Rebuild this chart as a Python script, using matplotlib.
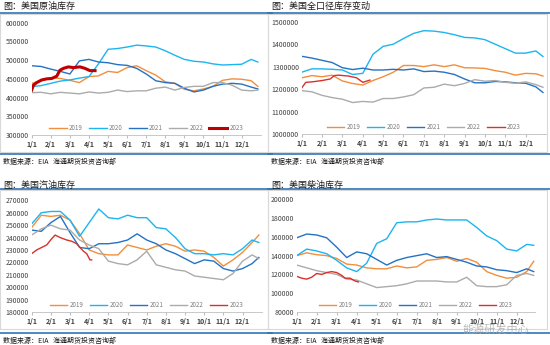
import matplotlib.pyplot as plt
from matplotlib.lines import Line2D
from matplotlib.patches import Rectangle
from matplotlib.ticker import FuncFormatter

plt.rcParams['font.family'] = ['Noto Sans CJK SC', 'DejaVu Sans']

# month position (0 = 1/1) of each reading, semi-monthly
months = [0, 0.5, 1, 1.5, 2, 2.5, 3, 3.5, 4, 4.5, 5, 5.5, 6, 6.5, 7, 7.5,
          8, 8.5, 9, 9.5, 10, 10.5, 11, 11.5, 11.85]
month_labels = ['1/1', '2/1', '3/1', '4/1', '5/1', '6/1', '7/1', '8/1',
                '9/1', '10/1', '11/1', '12/1']
years = ['2019', '2020', '2021', '2022', '2023']

# crude oil stocks (thousand barrels)
crude_2019 = [438, 445, 453, 451, 446, 440, 456, 458, 470, 467, 480, 485, 472,
              460, 442, 438, 422, 418, 423, 430, 446, 450, 449, 445, 430]
crude_2020 = [429, 432, 438, 444, 447, 452, 456, 490, 529, 531, 535, 540, 538,
              535, 525, 513, 502, 497, 495, 490, 487, 488, 489, 502, 495]
crude_2021 = [485, 483, 476, 470, 463, 498, 502, 495, 493, 488, 486, 478, 463,
              445, 440, 438, 425, 415, 420, 430, 436, 438, 436, 428, 423]
crude_2022 = [413, 414, 410, 414, 412, 410, 415, 412, 414, 420, 416, 418, 418,
              425, 428, 420, 427, 430, 430, 440, 440, 433, 420, 418, 420]
crude_2023_x = [0, 0.09, 0.26, 0.52, 0.79, 1.05, 1.31, 1.48, 1.66, 1.92, 2.18,
                2.53, 2.79, 3.05, 3.32]
crude_2023 = [420, 433, 440, 447, 450, 451, 457, 473, 478, 482, 480, 482, 478,
              472, 472]

# total stocks incl. SPR
total_2019 = [1250, 1260, 1255, 1262, 1236, 1225, 1218, 1238, 1255, 1275, 1305,
              1305, 1300, 1308, 1300, 1308, 1295, 1294, 1292, 1282, 1275, 1262,
              1270, 1268, 1258]
total_2020 = [1275, 1290, 1290, 1288, 1285, 1265, 1270, 1355, 1390, 1400, 1425,
              1448, 1460, 1458, 1452, 1442, 1430, 1428, 1420, 1400, 1380, 1360,
              1360, 1370, 1345]
total_2021 = [1346, 1338, 1328, 1318, 1295, 1287, 1293, 1285, 1285, 1288, 1285,
              1290, 1278, 1280, 1275, 1265, 1245, 1228, 1228, 1234, 1232, 1228,
              1226, 1210, 1185]
total_2022 = [1193, 1188, 1172, 1162, 1155, 1140, 1145, 1142, 1158, 1158, 1165,
              1175, 1205, 1208, 1222, 1215, 1225, 1242, 1235, 1238, 1230, 1226,
              1232, 1220, 1208]
total_2023_x = [0, 0.2, 0.5, 1.0, 1.4, 1.6, 1.8, 2.3, 2.7, 3.0, 3.35]
total_2023 = [1205, 1230, 1232, 1238, 1245, 1260, 1262, 1258, 1250, 1230, 1240]

# gasoline stocks
gas_2019 = [248, 258, 257, 258, 254, 243, 230, 227, 226, 226, 234, 232, 230,
            233, 235, 233, 229, 230, 229, 224, 217, 222, 228, 236, 242]
gas_2020 = [251, 260, 261, 261, 254, 241, 252, 263, 256, 255, 258, 256, 256,
            248, 247, 240, 231, 227, 227, 226, 227, 226, 231, 238, 236]
gas_2021 = [246, 245, 252, 257, 244, 232, 231, 235, 235, 236, 238, 243, 238,
            235, 230, 227, 223, 219, 222, 221, 215, 213, 215, 219, 224]
gas_2022 = [242, 247, 250, 247, 246, 238, 234, 231, 221, 219, 218, 222, 229,
            218, 216, 214, 213, 209, 208, 207, 206, 211, 221, 226, 223]
gas_2023_x = [0, 0.26, 0.52, 0.78, 1.04, 1.22, 1.48, 1.83, 2.09, 2.35, 2.52,
              2.70, 2.87, 3.04, 3.13]
gas_2023 = [227, 230, 232, 234, 239, 242, 240, 238, 237, 235, 232, 229, 227,
            222, 222]

# distillate stocks
dist_2019 = [140, 143, 141, 140, 137, 131, 130, 127, 126, 126, 129, 127, 128,
             135, 136, 138, 134, 137, 133, 123, 119, 116, 117, 123, 134]
dist_2020 = [140, 147, 145, 142, 135, 127, 123, 132, 153, 158, 175, 176, 176,
             178, 179, 178, 178, 178, 170, 161, 156, 147, 145, 152, 151]
dist_2021 = [159, 163, 162, 159, 149, 138, 144, 142, 136, 130, 135, 138, 140,
             142, 138, 139, 136, 133, 129, 128, 125, 124, 122, 126, 123]
dist_2022 = [130, 127, 124, 122, 120, 115, 114, 110, 106, 107, 108, 110, 113,
             113, 113, 112, 112, 117, 108, 107, 107, 109, 119, 121, 119]
dist_2023_x = [0, 0.25, 0.5, 0.75, 1.0, 1.25, 1.5, 1.75, 2.0, 2.25, 2.42, 2.67,
               2.92, 3.08]
dist_2023 = [118, 116, 115, 117, 121, 120, 122, 123, 122, 119, 116, 116, 113,
             112]

colors = ['#F28E3C', '#1CB5F0', '#2472C4', '#ABABAB']
blue_rule = '#2E75B6'

W, H = 550, 345
fig = plt.figure(figsize=(5.5, 3.45), dpi=100)


def fx(x):
    return x / W


def fy(y):
    return 1 - y / H


def panel(title, box, title_y, foot_y):
    x0, y0, x1, y1 = box
    fig.add_artist(Rectangle((fx(x0), fy(y1)), fx(x1 - x0), (y1 - y0) / H,
                             transform=fig.transFigure, fill=False,
                             edgecolor='#D9D9D9', lw=0.8))
    fig.add_artist(Line2D([fx(x0), fx(x1 + 4)], [fy(y0 - 1)] * 2,
                          transform=fig.transFigure, color=blue_rule, lw=1.2))
    fig.add_artist(Line2D([fx(x0), fx(x1 + 4)], [fy(foot_y)] * 2,
                          transform=fig.transFigure, color=blue_rule, lw=1.2))
    fig.text(fx(x0 + 3), fy(title_y), title, fontsize=6.5, va='center',
             color='#1A1A1A')
    fig.text(fx(x0 + 3), fy(foot_y + 8), '数据来源：EIA   海通期货投资咨询部',
             fontsize=5, va='center', color='#1A1A1A')


def chart(rect, series, red, ylim, ystep, xmax, red_color, red_lw):
    ax = fig.add_axes(rect)
    for vals, c, lab in zip(series, colors, years):
        ax.plot(months, [v * 1000 for v in vals], color=c, lw=1.0, label=lab)
    ax.plot(red[0], [v * 1000 for v in red[1]], color=red_color, lw=red_lw,
            label='2023')
    ax.set_xlim(0, xmax)
    ax.set_ylim(*ylim)
    ax.set_yticks(range(ylim[0], ylim[1] + 1, ystep))
    ax.yaxis.set_major_formatter(FuncFormatter(lambda v, p: '%d' % v))
    ax.set_xticks(range(12))
    ax.set_xticklabels(month_labels, fontsize=5, fontweight='bold',
                       color='#404040')
    ax.tick_params(axis='y', length=0, labelsize=5, labelcolor='#404040',
                   pad=2)
    ax.tick_params(axis='x', length=2, color='#BFBFBF', pad=2)
    for s in ['left', 'right', 'top']:
        ax.spines[s].set_visible(False)
    ax.spines['bottom'].set_color('#BFBFBF')
    ax.spines['bottom'].set_linewidth(0.6)
    ax.patch.set_alpha(0)
    leg = ax.legend(loc='lower center', ncol=5, frameon=False, fontsize=4.5,
                    handlelength=2.8, columnspacing=1.0, handletextpad=0.4,
                    borderaxespad=0.1)
    for t in leg.get_texts():
        t.set_color('#7F7F7F')
    return ax


panel('图：美国原油库存', (0, 14, 268, 152), 6.5, 154)
panel('图：美国全口径库存变动', (268, 14, 547, 152), 6.5, 154)
panel('图：美国汽油库存', (0, 190, 268, 329), 185, 333)
panel('图：美国柴油库存', (268, 190, 547, 329), 185, 333)

chart([fx(31.7), fy(135), fx(229), 112.3 / H],
      [crude_2019, crude_2020, crude_2021, crude_2022],
      (crude_2023_x, crude_2023), (300000, 600000), 50000, 12, '#C00000', 2.2)
chart([fx(301.7), fy(134), fx(244.3), 112.3 / H],
      [total_2019, total_2020, total_2021, total_2022],
      (total_2023_x, total_2023), (1000000, 1500000), 100000, 12, '#D9302A', 1.0)
chart([fx(31.7), fy(312), fx(230), 111.7 / H],
      [gas_2019, gas_2020, gas_2021, gas_2022],
      (gas_2023_x, gas_2023), (180000, 270000), 10000, 12, '#D9302A', 1.0)
chart([fx(296.7), fy(312), fx(238), 112.7 / H],
      [dist_2019, dist_2020, dist_2021, dist_2022],
      (dist_2023_x, dist_2023), (80000, 200000), 20000, 11.9, '#D9302A', 1.0)

fig.text(fx(462), fy(330), '能源研发中心', fontsize=8, color='#A8A8A8',
         alpha=0.8, va='center')

fig.savefig('out.png', dpi=100)
